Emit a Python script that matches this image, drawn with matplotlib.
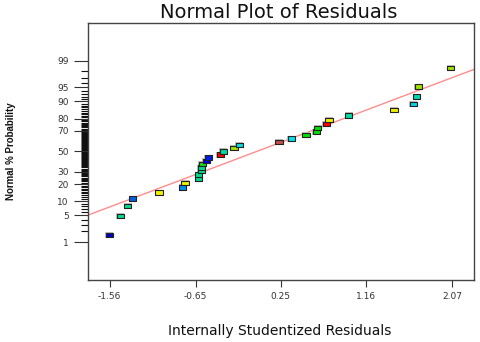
import numpy as np
import matplotlib
matplotlib.use("Agg")
import matplotlib.pyplot as plt
from statistics import NormalDist

# Internally studentized residuals, sorted
residuals = [-1.566, -1.447, -1.370, -1.317, -1.038, -0.788, -0.763, -0.619,
             -0.615, -0.591, -0.589, -0.577, -0.535, -0.517, -0.390, -0.355,
             -0.242, -0.186, 0.234, 0.364, 0.519, 0.628, 0.643, 0.734,
             0.763, 0.971, 1.453, 1.658, 1.693, 1.711, 2.052]
point_colors = ["#0000c8", "#00dc8c", "#00dc8c", "#0060e0", "#f0f000", "#0090f0",
                "#f0f000", "#00dc8c", "#00dc8c", "#00dc8c", "#00dc8c", "#10e010",
                "#0000f0", "#0020e0", "#ff0000", "#00dca0", "#a0e000", "#00e0e0",
                "#c05050", "#00e0f0", "#00e000", "#00e000", "#00e000", "#ff0000",
                "#f0f000", "#00dca0", "#f0f000", "#00d8e8", "#00d8b0", "#a0e000",
                "#a0e000"]

# fitted normal line
line_mean = 0.0
line_sd = 1.094

x_ticks = [-1.56, -0.65, 0.25, 1.16, 2.07]
x_range = (-1.79, 2.30)
major_pct = [1, 5, 10, 20, 30, 50, 70, 80, 90, 95, 99]
minor_pct = [p for p in range(1, 100) if p not in major_pct]

nd = NormalDist()
n = len(residuals)
pct = [(i + 0.5) / n for i in range(n)]
z = [nd.inv_cdf(p) for p in pct]

fig = plt.figure(figsize=(4.8, 3.42), dpi=100)
ax = fig.add_axes([0.1833, 0.1813, 0.8042, 0.7523])

ax.set_xlim(*x_range)
ax.set_ylim(-3.3, 3.3)

# fit line
xs = np.array(x_range)
ax.plot(xs, (xs - line_mean) / line_sd, color="#ff8c8c", lw=1, zorder=2)

rect = [(-1.6, -1), (1.6, -1), (1.6, 1), (-1.6, 1), (-1.6, -1)]
ax.scatter(residuals, z, s=40, marker=rect, c="#c0c0c0", linewidths=0, zorder=3)
ax.scatter(residuals, z, s=27, marker=rect, c=point_colors,
           edgecolors="#222222", linewidths=0.8, zorder=4)

ax.set_xticks(x_ticks)
ax.set_xticklabels([f"{t:.2f}" for t in x_ticks])
ax.tick_params(axis="x", direction="out", length=5, width=0.8, pad=4,
               labelsize=6.5, colors="#333333")

ax.set_yticks([nd.inv_cdf(p / 100) for p in major_pct])
ax.set_yticklabels([str(p) for p in major_pct])
ax.set_yticks([nd.inv_cdf(p / 100) for p in minor_pct], minor=True)
ax.tick_params(axis="y", which="major", direction="out", length=10, width=0.8,
               pad=4, labelsize=6.5, colors="#333333")
ax.tick_params(axis="y", which="minor", direction="out", length=5, width=0.8,
               colors="#111111")

for side in ["left", "right", "top", "bottom"]:
    ax.spines[side].set_color("#444444")
    ax.spines[side].set_linewidth(1)

fig.text(279 / 480, 1 - 13 / 342, "Normal Plot of Residuals", ha="center",
         va="center", fontsize=14, color="#111111")
fig.text(280 / 480, 1 - 331 / 342, "Internally Studentized Residuals",
         ha="center", va="center", fontsize=10, color="#111111")
fig.text(11 / 480, 1 - 151 / 342, "Normal % Probability", rotation=90,
         ha="center", va="center", fontsize=7, fontweight="bold",
         family="Liberation Sans", color="#111111")

fig.savefig("out.png", dpi=100)
